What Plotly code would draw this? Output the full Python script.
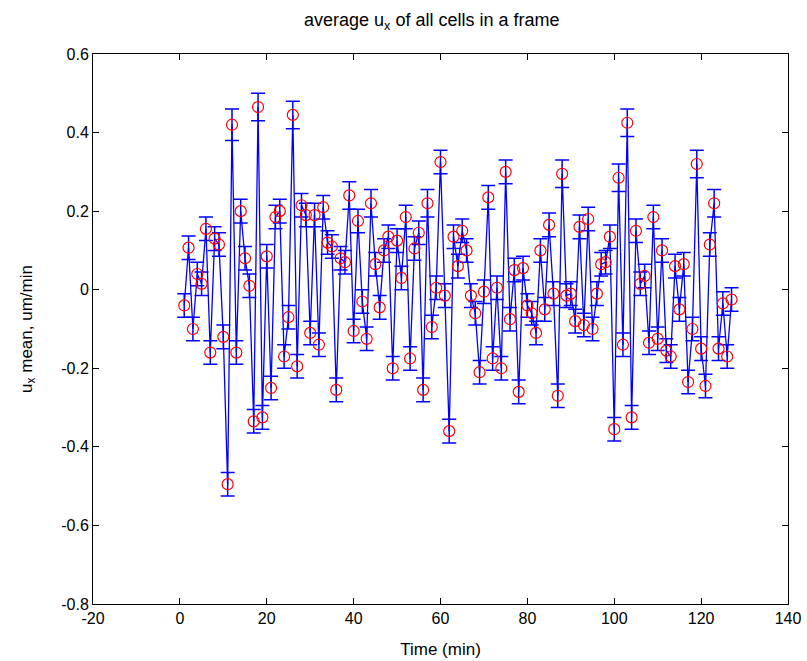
import plotly.graph_objects as go

time_min = list(range(1, 128))
ux_mean = [
    -0.04, 0.107, -0.10, 0.04, 0.015, 0.155, -0.16, 0.13, 0.115, -0.12,
    -0.495, 0.42, -0.16, 0.20, 0.08, 0.01, -0.335, 0.465, -0.325, 0.085,
    -0.25, 0.185, 0.20, -0.17, -0.07, 0.445, -0.195, 0.215, 0.19, -0.11,
    0.19, -0.14, 0.21, 0.12, 0.11, -0.255, 0.08, 0.07, 0.24, -0.105,
    0.175, -0.03, -0.125, 0.22, 0.065, -0.045, 0.10, 0.135, -0.20, 0.125,
    0.03, 0.185, -0.175, 0.105, 0.145, -0.255, 0.22, -0.095, 0.005, 0.325,
    -0.015, -0.36, 0.135, 0.06, 0.15, 0.10, -0.015, -0.06, -0.21, -0.005,
    0.235, -0.175, 0.005, -0.20, 0.30, -0.075, 0.05, -0.26, 0.055, -0.04,
    -0.06, -0.11, 0.10, -0.05, 0.165, -0.01, -0.27, 0.295, -0.015, -0.01,
    -0.08, 0.16, -0.09, 0.18, -0.10, -0.01, 0.065, 0.07, 0.135, -0.355,
    0.285, -0.14, 0.425, -0.325, 0.15, 0.015, 0.035, -0.135, 0.185, -0.125,
    0.10, -0.155, -0.17, 0.06, -0.05, 0.065, -0.235, -0.10, 0.32, -0.15,
    -0.245, 0.115, 0.22, -0.15, -0.035, -0.17, -0.025,
]
ux_err = [
    0.03, 0.03, 0.03, 0.03, 0.03, 0.03, 0.03, 0.03, 0.03, 0.03,
    0.03, 0.04, 0.03, 0.03, 0.03, 0.03, 0.03, 0.035, 0.03, 0.03,
    0.03, 0.03, 0.03, 0.03, 0.03, 0.035, 0.03, 0.03, 0.03, 0.03,
    0.03, 0.03, 0.03, 0.03, 0.03, 0.03, 0.03, 0.03, 0.035, 0.03,
    0.03, 0.03, 0.03, 0.035, 0.03, 0.03, 0.03, 0.03, 0.03, 0.03,
    0.03, 0.03, 0.03, 0.03, 0.03, 0.03, 0.035, 0.03, 0.03, 0.03,
    0.03, 0.03, 0.03, 0.03, 0.03, 0.03, 0.03, 0.03, 0.03, 0.03,
    0.03, 0.03, 0.03, 0.03, 0.03, 0.03, 0.03, 0.03, 0.03, 0.03,
    0.03, 0.03, 0.03, 0.03, 0.03, 0.03, 0.03, 0.035, 0.03, 0.03,
    0.03, 0.03, 0.03, 0.03, 0.03, 0.03, 0.03, 0.03, 0.03, 0.03,
    0.035, 0.03, 0.035, 0.03, 0.03, 0.03, 0.03, 0.03, 0.03, 0.03,
    0.03, 0.03, 0.03, 0.03, 0.03, 0.03, 0.03, 0.03, 0.035, 0.03,
    0.03, 0.03, 0.035, 0.03, 0.03, 0.03, 0.03,
]

x_ticks = [-20, 0, 20, 40, 60, 80, 100, 120, 140]
x_tick_labels = ["-20", "0", "20", "40", "60", "80", "100", "120", "140"]
y_ticks = [-0.8, -0.6, -0.4, -0.2, 0, 0.2, 0.4, 0.6]
y_tick_labels = ["-0.8", "-0.6", "-0.4", "-0.2", "0", "0.2", "0.4", "0.6"]

FONT = "Liberation Sans"

fig = go.Figure()
fig.add_trace(go.Scatter(
    x=time_min, y=ux_mean,
    mode="lines",
    line=dict(color="#0000ff", width=1.3),
    error_y=dict(type="data", array=ux_err, visible=True,
                 color="#0000ff", thickness=1.5, width=7),
    showlegend=False, hoverinfo="skip",
))
fig.add_trace(go.Scatter(
    x=time_min, y=ux_mean,
    mode="markers",
    marker=dict(symbol="circle-open", color="#ff0000", size=11,
                line=dict(width=1.2, color="#ff0000")),
    showlegend=False,
))

axis_common = dict(
    showline=True, linecolor="black", linewidth=1, mirror="ticks",
    ticks="inside", ticklen=6, tickcolor="black", showgrid=False,
    zeroline=False, automargin=False,
    tickfont=dict(family=FONT, size=16, color="black"),
)
fig.update_layout(
    width=807, height=661,
    margin=dict(l=93, r=19, t=54, b=57),
    paper_bgcolor="white", plot_bgcolor="white",
    title=dict(text="average u<sub>x</sub> of all cells in a frame",
               x=0.535, xanchor="center", y=0.98, yanchor="top",
               font=dict(family=FONT, size=18, color="black")),
    xaxis=dict(range=[-20, 140], tickvals=x_ticks, ticktext=x_tick_labels,
               title=dict(text="Time (min)", standoff=16,
                          font=dict(family=FONT, size=17, color="black")),
               **axis_common),
    yaxis=dict(range=[-0.8, 0.6], tickvals=y_ticks, ticktext=y_tick_labels,
               title=dict(text="u<sub>x</sub> mean, um/min", standoff=24,
                          font=dict(family=FONT, size=17, color="black")),
               **axis_common),
)
fig.write_html("out.html")
